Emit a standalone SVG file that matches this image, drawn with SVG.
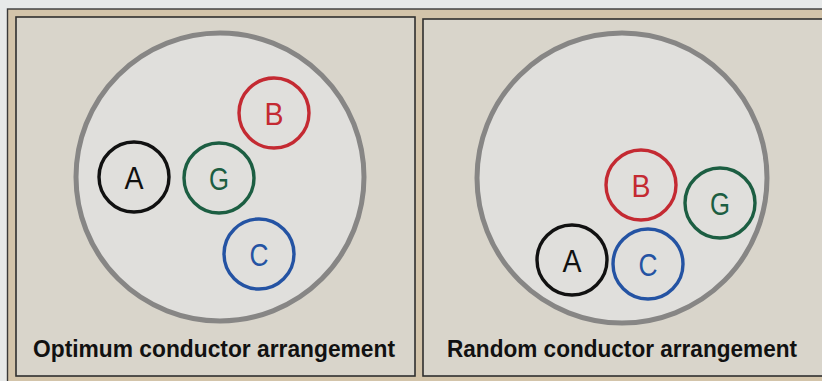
<svg xmlns="http://www.w3.org/2000/svg" width="822" height="381" viewBox="0 0 822 381">
  <style>
    .panel { fill: #d9d5cb; stroke: #2f2f2f; stroke-width: 1.6; }
    .cable { fill: #e0dfdc; stroke: #878685; stroke-width: 5; }
    .cond { fill: none; stroke-width: 3.4; }
    .ltr { font-family: "Liberation Sans", Arial, sans-serif; font-size: 32px; text-anchor: middle; }
    .cap { font-family: "Liberation Sans", Arial, sans-serif; font-size: 23px; font-weight: bold; fill: #111; }
    .a { stroke: #111; } .ta { fill: #111; }
    .b { stroke: #c42a32; } .tb { fill: #c42a32; }
    .g { stroke: #1c5e42; } .tg { fill: #1c5e42; }
    .c { stroke: #2453a3; } .tc { fill: #2453a3; }
  </style>
  <rect x="0" y="0" width="822" height="381" fill="#e7e9e9"/>
  <rect x="7.5" y="9" width="816" height="374" fill="#d3c4aa" stroke="#3a3a3a" stroke-width="1.4"/>

  <g id="panel-optimum">
    <rect class="panel" x="16" y="17" width="399" height="359"/>
    <circle class="cable" cx="220" cy="177" r="144"/>
    <text class="cap" x="33" y="357" textLength="362" lengthAdjust="spacingAndGlyphs">Optimum conductor arrangement</text>
  </g>
  <g id="opt-A">
    <circle class="cond a" cx="134" cy="177" r="35"/>
    <text class="ltr ta" x="134" y="189" textLength="19" lengthAdjust="spacingAndGlyphs">A</text>
  </g>
  <g id="opt-G">
    <circle class="cond g" cx="219" cy="178" r="35"/>
    <text class="ltr tg" x="219" y="190" textLength="20" lengthAdjust="spacingAndGlyphs">G</text>
  </g>
  <g id="opt-B">
    <circle class="cond b" cx="274" cy="113" r="35"/>
    <text class="ltr tb" x="274" y="125" textLength="19" lengthAdjust="spacingAndGlyphs">B</text>
  </g>
  <g id="opt-C">
    <circle class="cond c" cx="259" cy="254" r="35"/>
    <text class="ltr tc" x="259" y="266" textLength="19" lengthAdjust="spacingAndGlyphs">C</text>
  </g>

  <g id="panel-random">
    <rect class="panel" x="423" y="19" width="402" height="357"/>
    <circle class="cable" cx="622" cy="178" r="145"/>
    <text class="cap" x="447" y="357" textLength="350" lengthAdjust="spacingAndGlyphs">Random conductor arrangement</text>
  </g>
  <g id="rnd-B">
    <circle class="cond b" cx="641" cy="185" r="35"/>
    <text class="ltr tb" x="641" y="197" textLength="19" lengthAdjust="spacingAndGlyphs">B</text>
  </g>
  <g id="rnd-G">
    <circle class="cond g" cx="720" cy="203" r="35"/>
    <text class="ltr tg" x="720" y="215" textLength="20" lengthAdjust="spacingAndGlyphs">G</text>
  </g>
  <g id="rnd-A">
    <circle class="cond a" cx="572" cy="260" r="35"/>
    <text class="ltr ta" x="572" y="272" textLength="19" lengthAdjust="spacingAndGlyphs">A</text>
  </g>
  <g id="rnd-C">
    <circle class="cond c" cx="648" cy="264" r="35"/>
    <text class="ltr tc" x="648" y="276" textLength="19" lengthAdjust="spacingAndGlyphs">C</text>
  </g>
  <g id="connectors"/>
</svg>
